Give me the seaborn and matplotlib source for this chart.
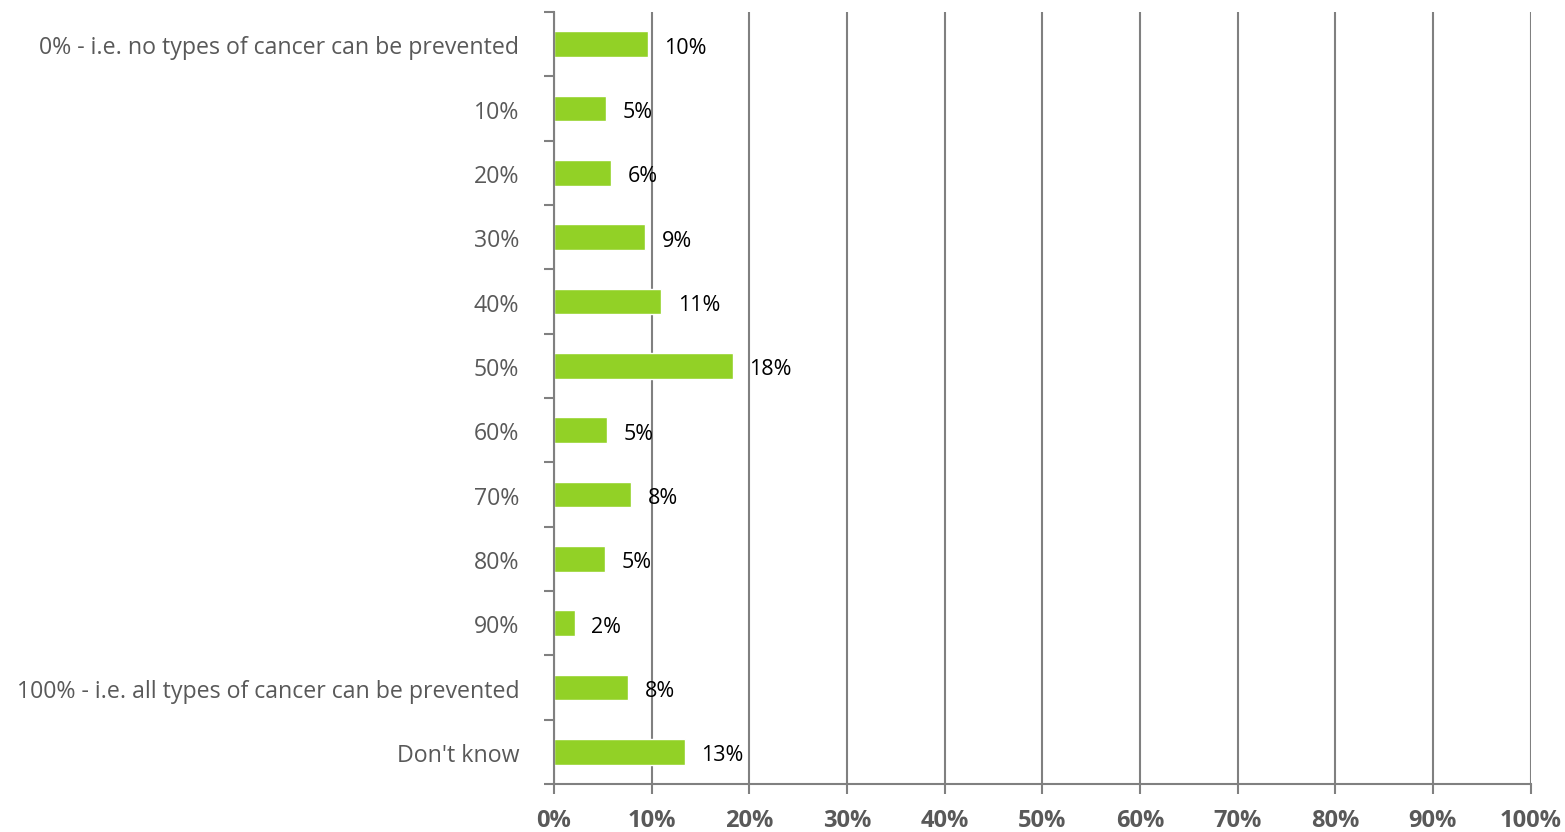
import matplotlib
matplotlib.use("Agg")
import matplotlib.pyplot as plt
import matplotlib.transforms as mtransforms
from matplotlib.ticker import FixedLocator, PercentFormatter
import seaborn as sns
import pandas as pd

categories = [
    "0% - i.e. no types of cancer can be prevented",
    "10%", "20%", "30%", "40%", "50%", "60%", "70%", "80%", "90%",
    "100% - i.e. all types of cancer can be prevented",
    "Don't know",
]
shares = [9.6, 5.3, 5.8, 9.3, 11.0, 18.3, 5.4, 7.9, 5.2, 2.1, 7.6, 13.4]
x_ticks = list(range(0, 101, 10))

df = pd.DataFrame({"answer": categories, "share": shares})

sns.set_theme(style="white")
plt.rcParams["font.family"] = ["Open Sans", "DejaVu Sans"]

fig = plt.figure(figsize=(15.65, 8.32), dpi=100)
ax = fig.add_axes([0.354, 0.0577, 0.624, 0.928])

bar_color = "#92D126"
grid_color = "#808080"
text_gray = "#595959"

sns.barplot(data=df, x="share", y="answer", color=bar_color, width=0.4,
            saturation=1, ax=ax, orient="h")

ax.set_xlim(0, 100)
ax.set_ylim(len(categories) - 0.5, -0.5)
ax.set_xticks(x_ticks)
ax.xaxis.set_major_formatter(PercentFormatter(decimals=0))
ax.set_xlabel("")
ax.set_ylabel("")

# vertical gridlines
ax.grid(axis="x", color=grid_color, linewidth=1.5)
ax.grid(axis="y", visible=False)
ax.set_axisbelow(True)

for side in ["top", "right"]:
    ax.spines[side].set_visible(False)
for side in ["left", "bottom"]:
    ax.spines[side].set_visible(True)
    ax.spines[side].set_color(grid_color)
    ax.spines[side].set_linewidth(1.5)

# ticks between categories on the y axis
ax.yaxis.set_minor_locator(FixedLocator([i - 0.5 for i in range(len(categories) + 1)]))
ax.tick_params(axis="y", which="major", length=0, pad=25, labelsize=16.7, labelcolor=text_gray)
ax.tick_params(axis="y", which="minor", left=True, length=7, width=1.5, color=grid_color)
ax.tick_params(axis="x", which="major", bottom=True, length=7, width=1.5, color=grid_color,
               pad=11, labelsize=17, labelcolor=text_gray)
for lbl in ax.get_xticklabels():
    lbl.set_fontweight("bold")

nudge = mtransforms.ScaledTranslation(0, -3 / 72, fig.dpi_scale_trans)
for lbl in ax.get_yticklabels():
    lbl.set_verticalalignment("center")
    lbl.set_transform(lbl.get_transform() + nudge)

for container in ax.containers:
    texts = ax.bar_label(container, labels=[f"{v:.0f}%" for v in container.datavalues],
                         padding=12, fontsize=15.5, color="black")
    for t in texts:
        dx, _ = t.xyann
        t.xyann = (dx, -3)

fig.savefig("out.png", dpi=100)
